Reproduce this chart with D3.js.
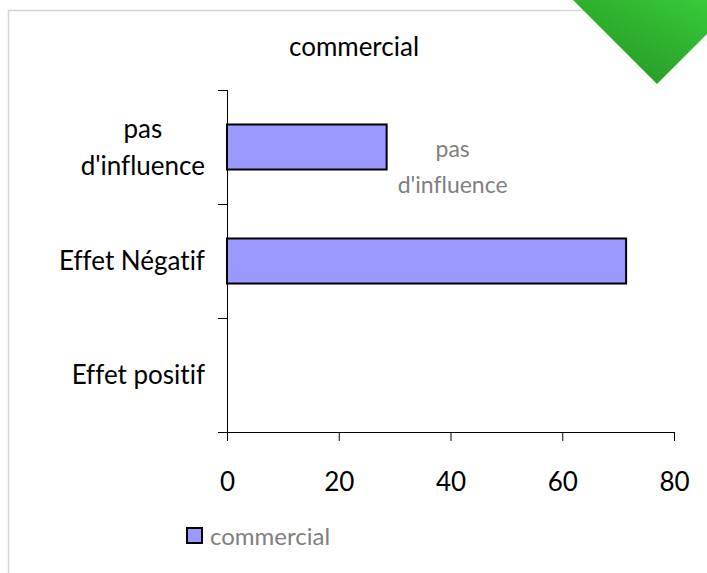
<!DOCTYPE html>
<html>
<head>
<meta charset="utf-8">
<script src="https://cdn.jsdelivr.net/npm/d3@7"></script>
<style>
  body { margin: 0; background: #fff; }
  svg { display: block; font-family: Lato, 'Open Sans', sans-serif; font-variant-ligatures: none; }
</style>
</head>
<body>
<div id="chart"></div>
<script>
var categories = ["pas d'influence", "Effet Négatif", "Effet positif"];
var values = [28.57, 71.43, 0];
var xTicks = [0, 20, 40, 60, 80];
var seriesName = "commercial";
var dataLabel = "pas d'influence";

var _width = 707, _height = 573,
    _left = 227, _right = 674, _top = 90, _bottom = 432;

var svg = d3.select('#chart').append('svg')
    .attr('width', _width)
    .attr('height', _height);

// outer frame, only top and left edges are visible
svg.append('rect')
    .attr('x', 8.5).attr('y', 10.5)
    .attr('width', 800).attr('height', 700)
    .attr('fill', 'none')
    .attr('stroke', '#d4d4d4')
    .attr('stroke-width', 1.5);

var defs = svg.append('defs');
var grad = defs.append('linearGradient')
    .attr('id', 'greenGrad')
    .attr('x1', '0%').attr('y1', '100%')
    .attr('x2', '100%').attr('y2', '0%');
grad.append('stop').attr('offset', '0%').attr('stop-color', '#248f24');
grad.append('stop').attr('offset', '100%').attr('stop-color', '#3ad13a');

svg.append('polygon')
    .attr('points', '573,0 657,84 741,0')
    .attr('fill', 'url(#greenGrad)');

var x = d3.scaleLinear()
    .domain([0, 80])
    .range([_left, _right]);

var y = d3.scaleBand()
    .domain(categories)
    .range([_top, _bottom])
    .paddingInner(0.605)
    .paddingOuter(0.3025);

// title
svg.append('text')
    .attr('x', 354).attr('y', 56)
    .attr('text-anchor', 'middle')
    .style('font-size', '26px')
    .attr('fill', '#000')
    .text(seriesName);

// bars
svg.append('g')
  .selectAll('rect')
  .data(values)
  .enter().append('rect')
    .attr('x', x(0))
    .attr('y', function(d, i) { return y(categories[i]); })
    .attr('width', function(d) { return x(d) - x(0); })
    .attr('height', y.bandwidth())
    .attr('fill', function(d) { return d > 0 ? '#9999ff' : 'none'; })
    .attr('stroke', function(d) { return d > 0 ? '#000' : 'none'; })
    .attr('stroke-width', 2);

// y axis line and band boundary ticks
var yAxis = svg.append('g').attr('stroke', '#000').attr('stroke-width', 1);
yAxis.append('line')
    .attr('x1', x(0) + 0.5).attr('x2', x(0) + 0.5)
    .attr('y1', _top).attr('y2', _bottom);
var bounds = categories.map(function(c) {
  return y(c) + y.bandwidth() / 2 - y.step() / 2;
});
bounds.push(_bottom);
yAxis.selectAll('.btick')
  .data(bounds)
  .enter().append('line')
    .attr('x1', x(0) - 9).attr('x2', x(0))
    .attr('y1', function(d) { return Math.round(d) + 0.5; })
    .attr('y2', function(d) { return Math.round(d) + 0.5; });

// category labels, multi-line ones centred inside a right-aligned block
categories.forEach(function(c) {
  var lines = c === "pas d'influence" ? ['pas', "d'influence"] : [c];
  var cy = y(c) + y.bandwidth() / 2;
  var g = svg.append('g');
  var texts = lines.map(function(l, i) {
    return g.append('text')
        .attr('y', cy + 9 + (i - (lines.length - 1) / 2) * 37)
        .attr('text-anchor', 'middle')
        .style('font-size', '26px')
        .attr('fill', '#000')
        .text(l);
  });
  var maxW = d3.max(texts, function(t) { return t.node().getComputedTextLength(); });
  texts.forEach(function(t) { t.attr('x', 205 - maxW / 2); });
});

// x axis
var xAxis = svg.append('g')
    .attr('transform', 'translate(0,' + _bottom + ')')
    .call(d3.axisBottom(x).tickValues(xTicks).tickSize(9).tickSizeOuter(0).tickPadding(32));
xAxis.select('.domain').attr('d', 'M' + (x(0) - 9) + ',0.5H' + x(80));
xAxis.selectAll('line').attr('stroke', '#000');
xAxis.selectAll('text')
    .style('font-size', '26px')
    .style('font-family', 'Lato, sans-serif')
    .attr('fill', '#000');

// stray data label next to first bar
var lblX = x(values[0]) + 66;
var lblY = y(categories[0]) + y.bandwidth() / 2;
["pas", "d'influence"].forEach(function(l, i) {
  svg.append('text')
      .attr('x', lblX)
      .attr('y', lblY + 10 + i * 36)
      .attr('text-anchor', 'middle')
      .style('font-size', '23px')
      .attr('fill', '#808080')
      .text(l);
});

// legend
var legend = svg.append('g').attr('transform', 'translate(187,528)');
legend.append('rect')
    .attr('width', 15).attr('height', 15)
    .attr('fill', '#9999ff')
    .attr('stroke', '#000')
    .attr('stroke-width', 2);
legend.append('text')
    .attr('x', 23).attr('y', 17)
    .style('font-size', '24px')
    .attr('fill', '#808080')
    .text(seriesName);
</script>
</body>
</html>
